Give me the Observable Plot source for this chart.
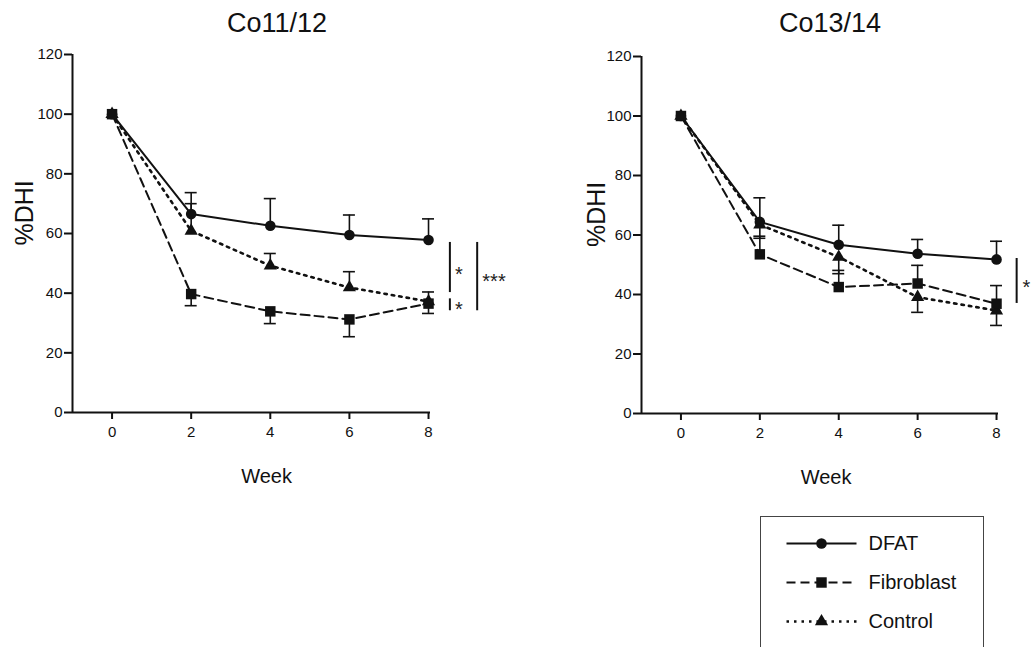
<!DOCTYPE html>
<html><head><meta charset="utf-8">
<script src="https://cdn.jsdelivr.net/npm/d3@7"></script>
<script src="https://cdn.jsdelivr.net/npm/@observablehq/plot@0.6"></script>
<style>
body{margin:0;background:#fff;overflow:hidden;font-family:"Liberation Sans",Arial,sans-serif;}
#wrap{position:relative;width:1033px;height:647px;overflow:hidden;background:#fff;}
.title{position:absolute;top:10px;font-size:27px;line-height:1;transform:translateX(-50%);color:#111;white-space:nowrap}
.panel{position:absolute;}
</style></head><body>
<div id="wrap">
<div class="title" style="left:277px">Co11/12</div>
<div class="title" style="left:830px">Co13/14</div>
</div>
<script>
// ---- data ----
const weeks = [0, 2, 4, 6, 8];
const seriesNames = ["DFAT", "Fibroblast", "Control"];
const drawOrder = ["Control", "DFAT", "Fibroblast"];
const yTicks = [0, 20, 40, 60, 80, 100, 120];

// Co11/12
const co11_dfat = [100, 66.5, 62.6, 59.5, 57.8];
const co11_dfatErr = [0, 7.2, 9.1, 6.7, 7.1];
const co11_fib = [100, 39.7, 33.9, 31.2, 36.5];
const co11_fibErr = [0, 3.9, 4.1, 5.8, 3.3];
const co11_ctrl = [100, 60.9, 49.2, 41.9, 37.2];
const co11_ctrlErr = [0, 9.1, 4.1, 5.3, 3.2];
const co11_errDir = {DFAT: 1, Fibroblast: -1, Control: 1};
const co11_sigBars = [{x: 8.54, y1: 40.2, y2: 57}, {x: 8.54, y1: 34.1, y2: 38.1}, {x: 9.23, y1: 34.1, y2: 57}];
const co11_sigText = [{x: 8.77, y: 47.8, t: "*", a: "middle"}, {x: 8.77, y: 36.3, t: "*", a: "middle"}, {x: 9.36, y: 45.6, t: "***", a: "start"}];

// Co13/14
const co13_dfat = [100, 64.4, 56.7, 53.7, 51.8];
const co13_dfatErr = [0, 8.1, 6.6, 4.8, 6.1];
const co13_fib = [100, 53.5, 42.5, 43.7, 36.9];
const co13_fibErr = [0, 6.1, 5.6, 6.1, 6.1];
const co13_ctrl = [100, 63.5, 52.6, 39.1, 34.6];
const co13_ctrlErr = [0, 4.6, 5.6, 5.1, 5.0];
const co13_errDir = {DFAT: 1, Fibroblast: 1, Control: -1};
const co13_sigBars = [{x: 8.51, y1: 37, y2: 52.1}];
const co13_sigText = [{x: 8.76, y: 44, t: "*", a: "middle"}];

const styles = {
  DFAT: {dash: null, width: 2, symbol: "circle", r: 5.3},
  Fibroblast: {dash: "9,5", width: 2, symbol: "square", r: 5.9},
  Control: {dash: "2.5,5", width: 2.6, symbol: "triangle", r: 4.9}
};

const FONT = "Liberation Sans, Arial, sans-serif";

function makePanel(cfg) {
  const vals = {DFAT: [cfg.dfat, cfg.dfatErr], Fibroblast: [cfg.fib, cfg.fibErr], Control: [cfg.ctrl, cfg.ctrlErr]};
  const rows = seriesNames.flatMap(s => weeks.map((w, i) => ({
    series: s, week: w, value: vals[s][0][i], err: vals[s][1][i], dir: cfg.errDir[s]
  })));
  const errRows = rows.filter(d => d.err > 0).map(d => ({...d, end: d.value + d.dir * d.err}));
  const marks = [];
  // axis lines
  marks.push(Plot.ruleY([0], {stroke: "#111", strokeWidth: 2}));
  marks.push(Plot.ruleX([-1], {stroke: "#111", strokeWidth: 2}));
  marks.push(Plot.axisY({ticks: yTicks, tickSize: 8, tickPadding: 2, fontSize: 15, strokeWidth: 2, label: null, tickFormat: d => d}));
  marks.push(Plot.axisX({ticks: weeks, tickSize: 7, tickPadding: 7, fontSize: 15, strokeWidth: 2, label: null, tickFormat: d => d}));
  // lines
  for (const s of drawOrder) {
    marks.push(Plot.line(rows.filter(d => d.series === s), {
      x: "week", y: "value", stroke: "#111", strokeWidth: styles[s].width,
      strokeDasharray: styles[s].dash || undefined
    }));
  }
  // error bars
  marks.push(Plot.ruleX(errRows, {x: "week", y1: "value", y2: "end", stroke: "#111", strokeWidth: 1.6}));
  marks.push(Plot.ruleY(errRows, {y: "end", x1: "week", x2: "week", insetLeft: -6, insetRight: -6, stroke: "#111", strokeWidth: 1.6}));
  // markers
  for (const s of drawOrder) {
    marks.push(Plot.dot(rows.filter(d => d.series === s), {
      x: "week", y: "value", fill: "#111", stroke: "none", symbol: styles[s].symbol, r: styles[s].r
    }));
  }
  // significance
  marks.push(Plot.ruleX(cfg.sigBars, {x: "x", y1: "y1", y2: "y2", stroke: "#111", strokeWidth: 2}));
  for (const a of ["middle", "start"]) {
    marks.push(Plot.text(cfg.sigText.filter(d => d.a === a), {x: "x", y: "y", text: "t", textAnchor: a, fontSize: 20, dy: 5, fill: "#222"}));
  }
  // axis labels
  marks.push(Plot.text(["%DHI"], {text: d => d, frameAnchor: "left", dx: cfg.yLabelDx, dy: 12, rotate: -90, fontSize: 25, fill: "#111"}));
  marks.push(Plot.text(["Week"], {text: d => d, frameAnchor: "bottom", dx: cfg.xLabelDx, dy: 70, fontSize: 20, fill: "#111"}));

  const plot = Plot.plot({
    width: cfg.width, height: 500,
    marginLeft: cfg.marginLeft, marginRight: cfg.marginRight,
    marginTop: cfg.marginTop, marginBottom: 500 - cfg.zeroY,
    x: {domain: [-1, 8.05]},
    y: {domain: [0, 120]},
    style: {fontFamily: FONT, fontSize: "15px", color: "#111", background: "transparent", overflow: "visible"},
    marks
  });
  plot.classList.add("panel");
  plot.style.left = cfg.left + "px";
  plot.style.top = "0px";
  return plot;
}

const wrap = document.getElementById("wrap");
wrap.appendChild(makePanel({
  dfat: co11_dfat, dfatErr: co11_dfatErr, fib: co11_fib, fibErr: co11_fibErr, ctrl: co11_ctrl, ctrlErr: co11_ctrlErr,
  errDir: co11_errDir, sigBars: co11_sigBars, sigText: co11_sigText,
  left: 0, width: 540, marginLeft: 72, marginRight: 110, marginTop: 54, zeroY: 412,
  yLabelDx: -48, xLabelDx: 15
}));
wrap.appendChild(makePanel({
  dfat: co13_dfat, dfatErr: co13_dfatErr, fib: co13_fib, fibErr: co13_fibErr, ctrl: co13_ctrl, ctrlErr: co13_ctrlErr,
  errDir: co13_errDir, sigBars: co13_sigBars, sigText: co13_sigText,
  left: 568, width: 465, marginLeft: 73, marginRight: 35, marginTop: 56, zeroY: 413,
  yLabelDx: -45, xLabelDx: 6
}));

// legend
const legendRows = seriesNames.map(s => ({series: s}));
const legendMarks = [];
for (const s of seriesNames) {
  legendMarks.push(Plot.link(legendRows.filter(d => d.series === s), {
    x1: () => 0, x2: () => 1, y1: "series", y2: "series", stroke: "#111", strokeWidth: styles[s].width,
    strokeDasharray: styles[s].dash || undefined
  }));
  legendMarks.push(Plot.dot(legendRows.filter(d => d.series === s), {
    x: () => 0.5, y: "series", fill: "#111", stroke: "none", symbol: styles[s].symbol, r: styles[s].r
  }));
}
legendMarks.push(Plot.text(legendRows, {x: () => 1, y: "series", text: "series", textAnchor: "start", dx: 12, fontSize: 20, fill: "#111"}));
const legend = Plot.plot({
  width: 222, height: 140,
  marginLeft: 25, marginRight: 127, marginTop: 26, marginBottom: 36,
  x: {domain: [0, 1], axis: null},
  y: {type: "point", domain: seriesNames, padding: 0, axis: null},
  style: {fontFamily: FONT, color: "#111", background: "#fff", overflow: "visible", border: "1px solid #444"},
  marks: legendMarks
});
legend.classList.add("panel");
legend.style.left = "760px";
legend.style.top = "516px";
wrap.appendChild(legend);
</script>
</body></html>
